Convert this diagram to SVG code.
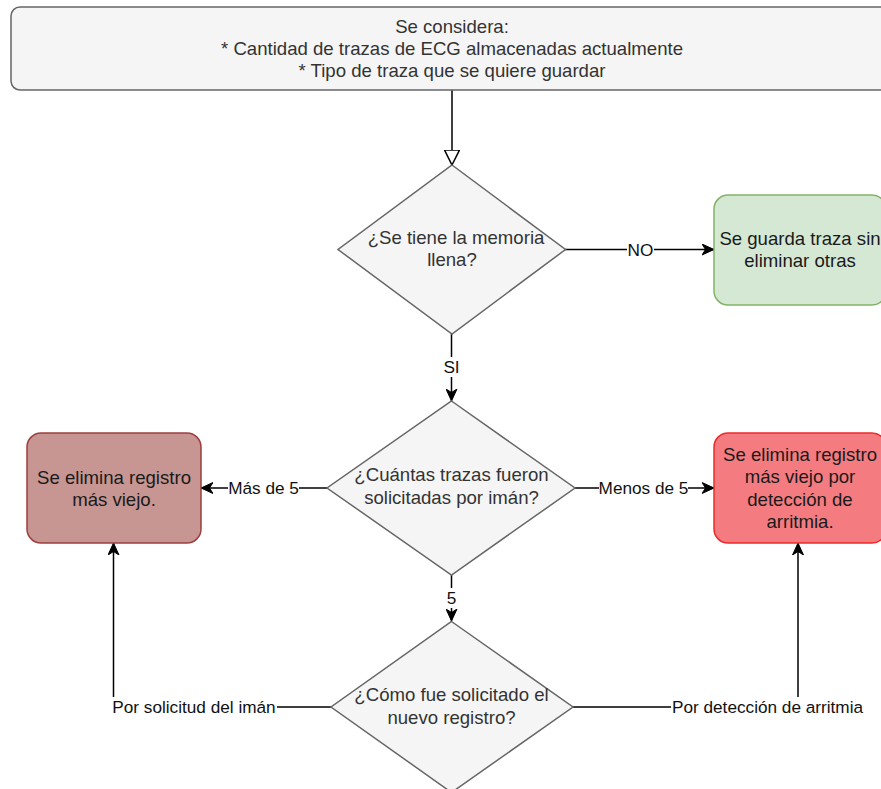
<svg xmlns="http://www.w3.org/2000/svg" width="881" height="789" viewBox="0 0 881 789">
<style>
.gray{fill:#f5f5f5;stroke:#666666;stroke-width:1.5}
.green{fill:#d5e8d4;stroke:#82b366;stroke-width:1.5}
.brown{fill:#c79592;stroke:#9c3f3f;stroke-width:1.5}
.red{fill:#f47c80;stroke:#ee2a2a;stroke-width:1.5}
.nt{font-family:"Liberation Sans",Arial,sans-serif;font-size:18.6px;fill:#333333;text-anchor:middle}
.dk{fill:#1a1a1a}
.edge{fill:none;stroke:#000000;stroke-width:1.5}
.lbl{font-family:"Liberation Sans",Arial,sans-serif;font-size:17.2px;fill:#111111;text-anchor:middle}
.bg{fill:#ffffff}
</style>
<defs>
<marker id="arr" markerUnits="userSpaceOnUse" markerWidth="14" markerHeight="12" refX="12" refY="6" orient="auto">
<path d="M12,6 L0,0.5 L3.5,6 L0,11.5 Z" fill="#000000" stroke="#000000" stroke-width="1"/>
</marker>
<marker id="open" markerUnits="userSpaceOnUse" markerWidth="18" markerHeight="18" refX="15.5" refY="8" orient="auto">
<path d="M15.5,8 L0.5,0.5 L0.5,15.5 Z" fill="#ffffff" stroke="#000000" stroke-width="1.5"/>
</marker>
</defs>
<rect width="881" height="789" fill="#ffffff"/>
<g id="connectors">
<path class="edge" d="M452,90 L452,165" marker-end="url(#open)"/>
<path class="edge" d="M565,249.5 L714,249.5" marker-end="url(#arr)"/>
<path class="edge" d="M451.5,334 L451.5,401" marker-end="url(#arr)"/>
<path class="edge" d="M327,488 L201,488" marker-end="url(#arr)"/>
<path class="edge" d="M575,488 L714,488" marker-end="url(#arr)"/>
<path class="edge" d="M451.5,575 L451.5,621" marker-end="url(#arr)"/>
<path class="edge" d="M331,707 L113.5,707 L113.5,543" marker-end="url(#arr)"/>
<path class="edge" d="M573,707 L798,707 L798,543" marker-end="url(#arr)"/>
<rect class="bg" x="627" y="239" width="27" height="20"/>
<text class="lbl" x="640.5" y="255.5">NO</text>
<rect class="bg" x="441" y="357" width="21" height="20"/>
<text class="lbl" x="451.5" y="373">SI</text>
<rect class="bg" x="228" y="478" width="71" height="20"/>
<text class="lbl" x="263.5" y="494">Más de 5</text>
<rect class="bg" x="599" y="478" width="89" height="20"/>
<text class="lbl" x="643.5" y="494">Menos de 5</text>
<rect class="bg" x="445" y="588" width="13" height="20"/>
<text class="lbl" x="451.5" y="604">5</text>
<rect class="bg" x="111" y="697" width="166" height="20"/>
<text class="lbl" x="194" y="713">Por solicitud del imán</text>
<rect class="bg" x="671" y="697" width="193" height="20"/>
<text class="lbl" x="767.5" y="713">Por detección de arritmia</text>
</g>
<g id="start">
<rect class="gray" x="11" y="7" width="885" height="83" rx="9" ry="9"/>
<text class="nt" x="452" y="33">Se considera:</text>
<text class="nt" x="452" y="55">* Cantidad de trazas de ECG almacenadas actualmente</text>
<text class="nt" x="452" y="77">* Tipo de traza que se quiere guardar</text>
</g>
<g id="d1">
<polygon class="gray" points="452,165 565.5,249.5 452,334 338,249.5"/>
<text class="nt" x="456" y="243.5">¿Se tiene la memoria</text>
<text class="nt" x="452" y="265.5">llena?</text>
</g>
<g id="saved">
<rect class="green" x="714" y="195" width="172" height="110" rx="14" ry="14"/>
<text class="nt dk" x="800" y="244.5">Se guarda traza sin</text>
<text class="nt dk" x="800" y="267">eliminar otras</text>
</g>
<g id="d2">
<polygon class="gray" points="451.5,401 575,488 451.5,575 327,488"/>
<text class="nt" x="451.5" y="481">¿Cuántas trazas fueron</text>
<text class="nt" x="451.5" y="503.5">solicitadas por imán?</text>
</g>
<g id="left">
<rect class="brown" x="27" y="433" width="174" height="110" rx="14" ry="14"/>
<text class="nt dk" x="114" y="483.5">Se elimina registro</text>
<text class="nt dk" x="114" y="505.5">más viejo.</text>
</g>
<g id="right">
<rect class="red" x="714" y="433" width="172" height="110" rx="14" ry="14"/>
<text class="nt dk" x="800" y="460.5">Se elimina registro</text>
<text class="nt dk" x="800" y="483">más viejo por</text>
<text class="nt dk" x="800" y="505.5">detección de</text>
<text class="nt dk" x="800" y="528">arritmia.</text>
</g>
<g id="d3">
<polygon class="gray" points="451.5,621.5 573,707 451.5,792.5 331,707"/>
<text class="nt" x="451.5" y="701">¿Cómo fue solicitado el</text>
<text class="nt" x="451.5" y="724">nuevo registro?</text>
</g>
</svg>
